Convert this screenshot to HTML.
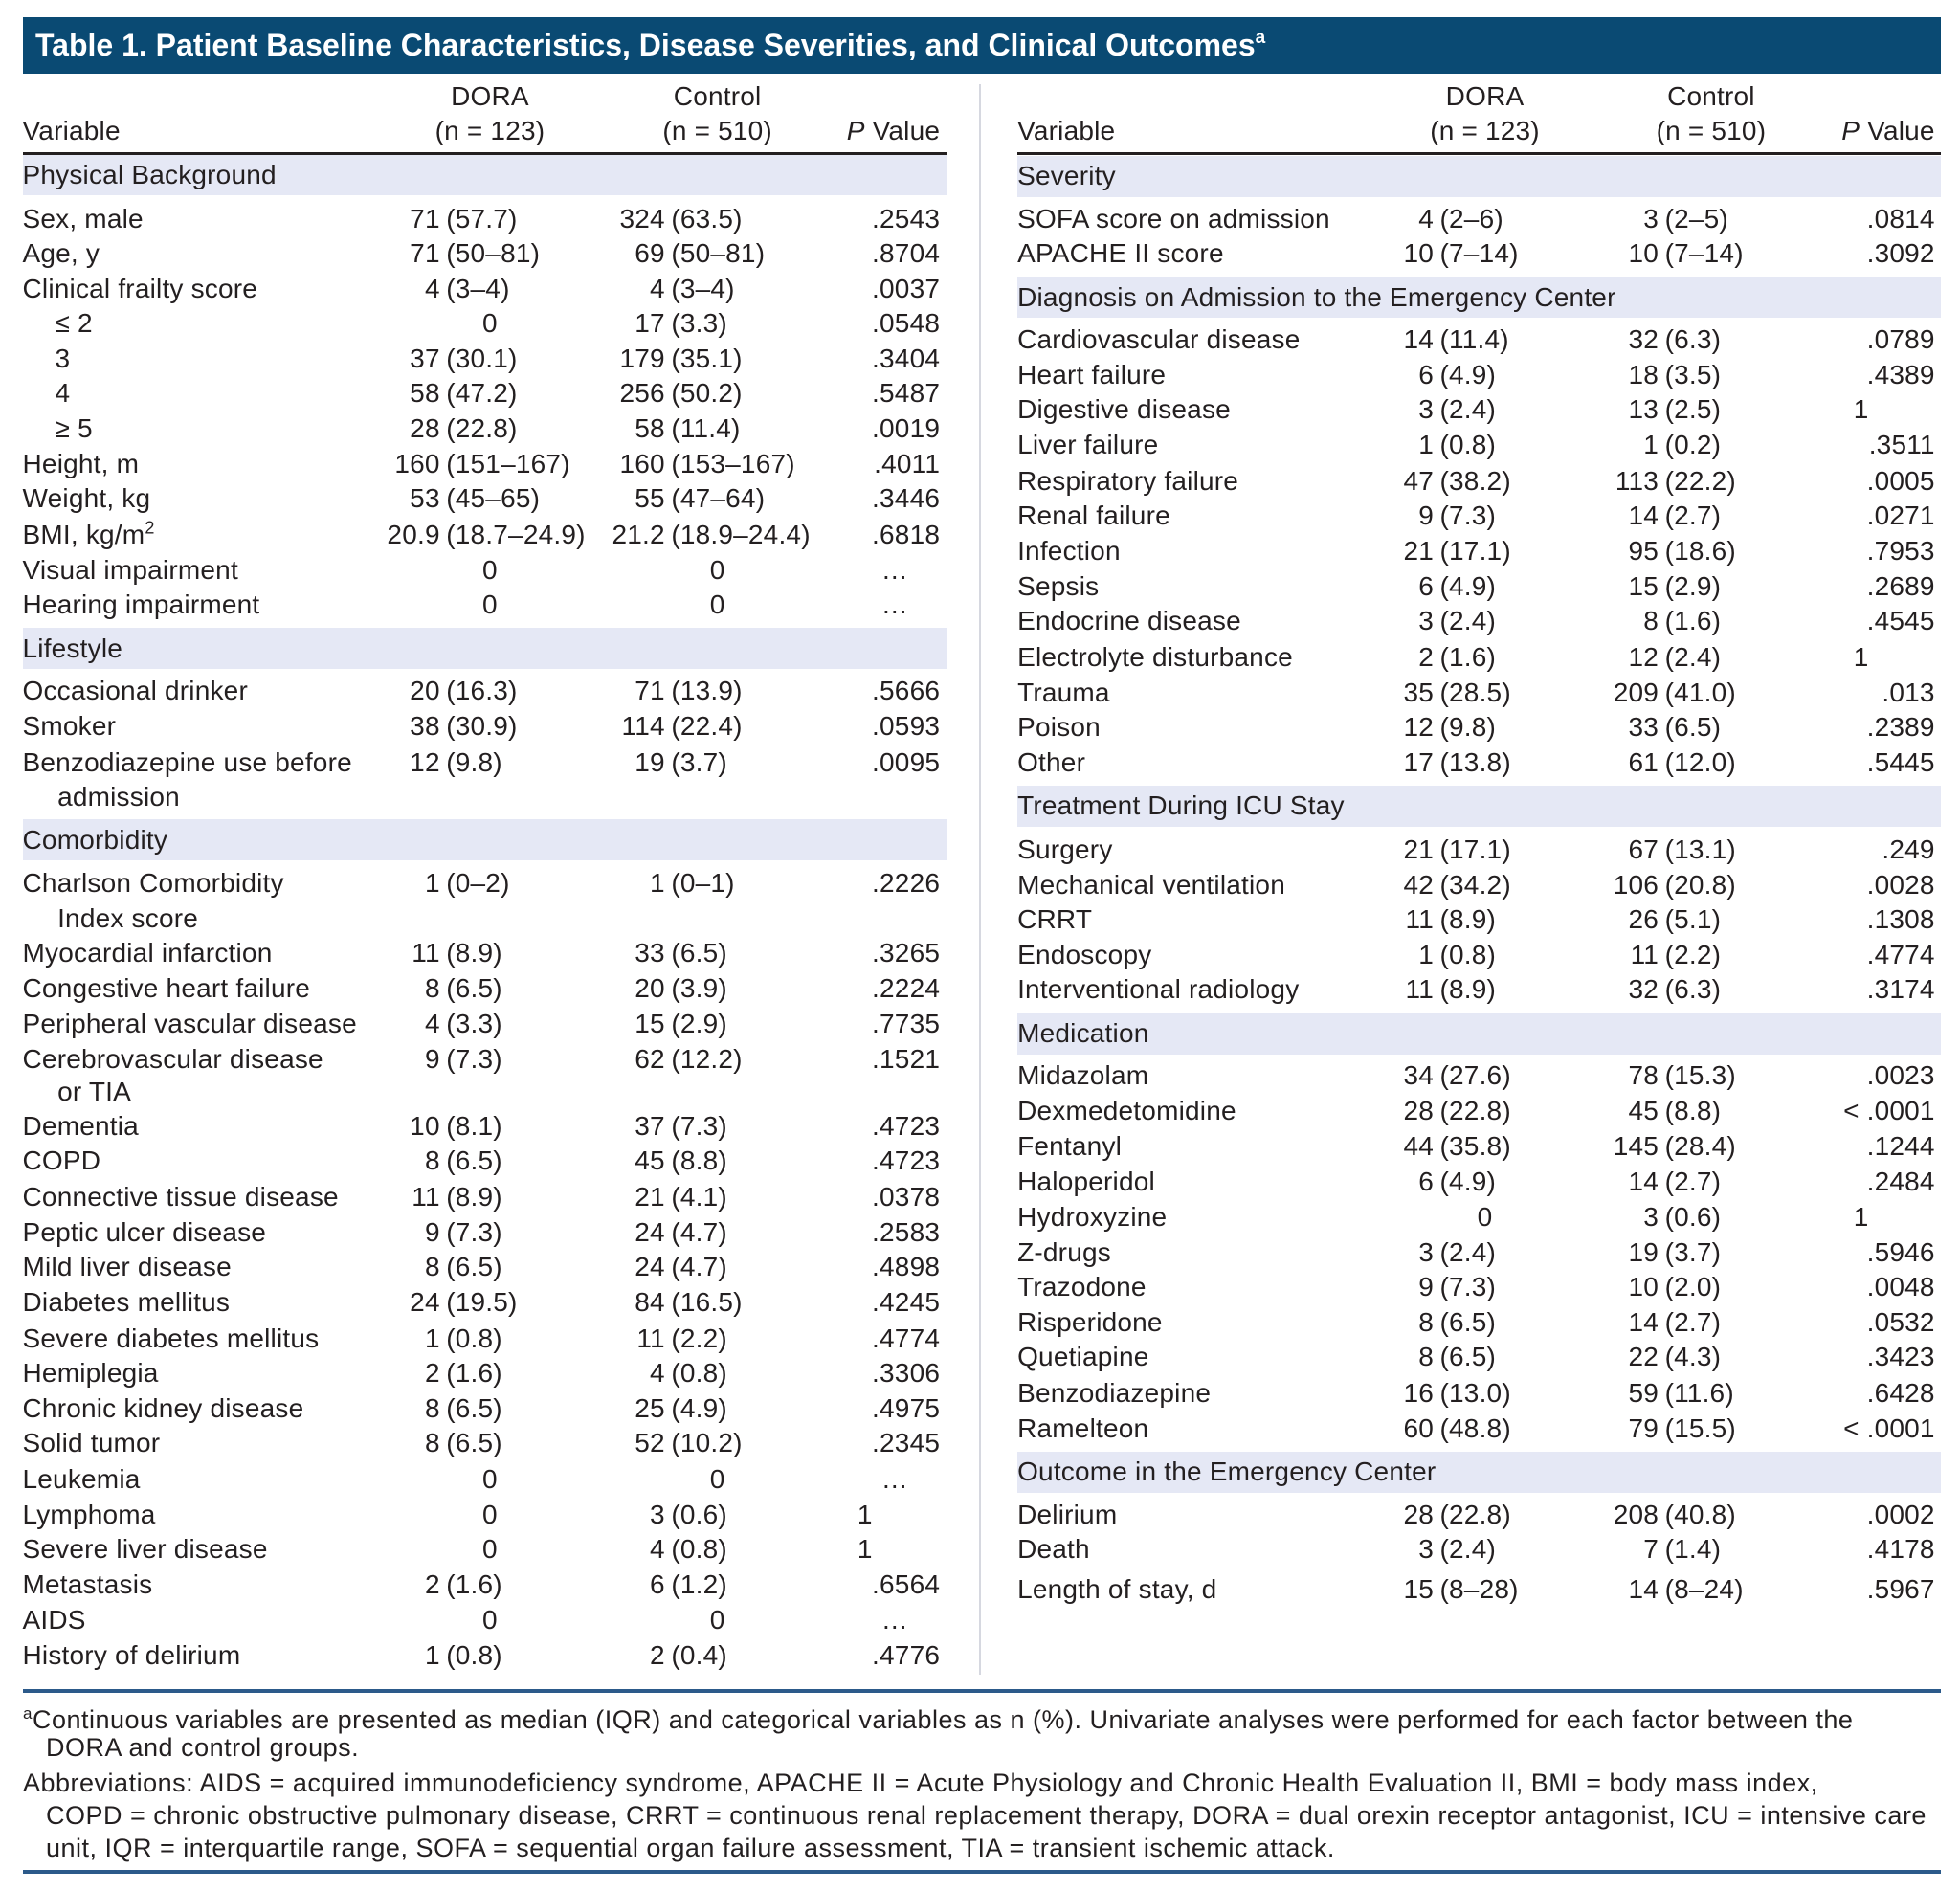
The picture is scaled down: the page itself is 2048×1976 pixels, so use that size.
<!DOCTYPE html>
<html><head><meta charset="utf-8">
<style>
html,body{margin:0;padding:0;background:#fff;}
#page{position:relative;width:2048px;height:1976px;overflow:hidden;background:#fff;font-family:"Liberation Sans Narrow","Liberation Sans",sans-serif;color:#231f20;}
.t{position:absolute;white-space:nowrap;font-size:28px;line-height:36px;height:36px;letter-spacing:0.2px;}
.band{position:absolute;background:#e5e8f5;}
.line{position:absolute;}
#title{position:absolute;left:24px;top:18px;width:2004px;height:59px;background:#0a4a73;color:#fff;font-weight:bold;font-size:32px;line-height:59px;letter-spacing:0px;box-sizing:border-box;padding-left:13px;white-space:nowrap;}
#title sup{font-size:19px;line-height:0;vertical-align:13px;}
.ft{position:absolute;white-space:nowrap;font-size:27px;line-height:34px;letter-spacing:0.5px;}
</style></head>
<body>
<div id="page">
<div id="title">Table 1. Patient Baseline Characteristics, Disease Severities, and Clinical Outcomes<sup>a</sup></div>
<div class="line" style="left:1023px;top:88px;width:2px;height:1662px;background:#d6d8e0;"></div>
<div class="line" style="left:24px;top:1765px;width:2004px;height:4px;background:#2c5a8a;"></div>
<div class="line" style="left:24px;top:1954px;width:2004px;height:4px;background:#2c5a8a;"></div>
<div class="ft" style="left:24px;top:1774px;"><sup style="font-size:17px">a</sup>Continuous variables are presented as median (IQR) and categorical variables as n (%). Univariate analyses were performed for each factor between the</div>
<div class="ft" style="left:48px;top:1809px;">DORA and control groups.</div>
<div class="ft" style="left:24px;top:1846px;">Abbreviations: AIDS = acquired immunodeficiency syndrome, APACHE II = Acute Physiology and Chronic Health Evaluation II, BMI = body mass index,</div>
<div class="ft" style="left:48px;top:1880px;">COPD = chronic obstructive pulmonary disease, CRRT = continuous renal replacement therapy, DORA = dual orexin receptor antagonist, ICU = intensive care</div>
<div class="ft" style="left:48px;top:1914px;">unit, IQR = interquartile range, SOFA = sequential organ failure assessment, TIA = transient ischemic attack.</div>
</div>
<script>
const S = 1.306;
const page = document.getElementById('page');
const leftRows = [
 ['s','Physical Background',140],
 ['r','Sex, male',175,'71 (57.7)','324 (63.5)','.2543'],
 ['r','Age, y',203,'71 (50–81)','69 (50–81)','.8704'],
 ['r','Clinical frailty score',231,'4 (3–4)','4 (3–4)','.0037'],
 ['i','≤ 2',259,'0','17 (3.3)','.0548'],
 ['i','3',287,'37 (30.1)','179 (35.1)','.3404'],
 ['i','4',315,'58 (47.2)','256 (50.2)','.5487'],
 ['i','≥ 5',343,'28 (22.8)','58 (11.4)','.0019'],
 ['r','Height, m',371,'160 (151–167)','160 (153–167)','.4011'],
 ['r','Weight, kg',399,'53 (45–65)','55 (47–64)','.3446'],
 ['r','BMI, kg/m²',428,'20.9 (18.7–24.9)','21.2 (18.9–24.4)','.6818'],
 ['r','Visual impairment',456,'0','0','…'],
 ['r','Hearing impairment',484,'0','0','…'],
 ['s','Lifestyle',519],
 ['r','Occasional drinker',553,'20 (16.3)','71 (13.9)','.5666'],
 ['r','Smoker',581,'38 (30.9)','114 (22.4)','.0593'],
 ['r','Benzodiazepine use before',610,'12 (9.8)','19 (3.7)','.0095'],
 ['c','admission',638],
 ['s','Comorbidity',672],
 ['r','Charlson Comorbidity',707,'1 (0–2)','1 (0–1)','.2226'],
 ['c','Index score',735],
 ['r','Myocardial infarction',763,'11 (8.9)','33 (6.5)','.3265'],
 ['r','Congestive heart failure',791,'8 (6.5)','20 (3.9)','.2224'],
 ['r','Peripheral vascular disease',819,'4 (3.3)','15 (2.9)','.7735'],
 ['r','Cerebrovascular disease',848,'9 (7.3)','62 (12.2)','.1521'],
 ['c','or TIA',874],
 ['r','Dementia',901,'10 (8.1)','37 (7.3)','.4723'],
 ['r','COPD',929,'8 (6.5)','45 (8.8)','.4723'],
 ['r','Connective tissue disease',958,'11 (8.9)','21 (4.1)','.0378'],
 ['r','Peptic ulcer disease',986,'9 (7.3)','24 (4.7)','.2583'],
 ['r','Mild liver disease',1014,'8 (6.5)','24 (4.7)','.4898'],
 ['r','Diabetes mellitus',1042,'24 (19.5)','84 (16.5)','.4245'],
 ['r','Severe diabetes mellitus',1071,'1 (0.8)','11 (2.2)','.4774'],
 ['r','Hemiplegia',1099,'2 (1.6)','4 (0.8)','.3306'],
 ['r','Chronic kidney disease',1127,'8 (6.5)','25 (4.9)','.4975'],
 ['r','Solid tumor',1155,'8 (6.5)','52 (10.2)','.2345'],
 ['r','Leukemia',1184,'0','0','…'],
 ['r','Lymphoma',1212,'0','3 (0.6)','1'],
 ['r','Severe liver disease',1240,'0','4 (0.8)','1'],
 ['r','Metastasis',1268,'2 (1.6)','6 (1.2)','.6564'],
 ['r','AIDS',1296,'0','0','…'],
 ['r','History of delirium',1325,'1 (0.8)','2 (0.4)','.4776']
];
const rightRows = [
 ['s','Severity',141],
 ['r','SOFA score on admission',175,'4 (2–6)','3 (2–5)','.0814'],
 ['r','APACHE II score',203,'10 (7–14)','10 (7–14)','.3092'],
 ['s','Diagnosis on Admission to the Emergency Center',238],
 ['r','Cardiovascular disease',272,'14 (11.4)','32 (6.3)','.0789'],
 ['r','Heart failure',300,'6 (4.9)','18 (3.5)','.4389'],
 ['r','Digestive disease',328,'3 (2.4)','13 (2.5)','1'],
 ['r','Liver failure',356,'1 (0.8)','1 (0.2)','.3511'],
 ['r','Respiratory failure',385,'47 (38.2)','113 (22.2)','.0005'],
 ['r','Renal failure',413,'9 (7.3)','14 (2.7)','.0271'],
 ['r','Infection',441,'21 (17.1)','95 (18.6)','.7953'],
 ['r','Sepsis',469,'6 (4.9)','15 (2.9)','.2689'],
 ['r','Endocrine disease',497,'3 (2.4)','8 (1.6)','.4545'],
 ['r','Electrolyte disturbance',526,'2 (1.6)','12 (2.4)','1'],
 ['r','Trauma',554,'35 (28.5)','209 (41.0)','.013'],
 ['r','Poison',582,'12 (9.8)','33 (6.5)','.2389'],
 ['r','Other',610,'17 (13.8)','61 (12.0)','.5445'],
 ['s','Treatment During ICU Stay',645],
 ['r','Surgery',680,'21 (17.1)','67 (13.1)','.249'],
 ['r','Mechanical ventilation',708,'42 (34.2)','106 (20.8)','.0028'],
 ['r','CRRT',736,'11 (8.9)','26 (5.1)','.1308'],
 ['r','Endoscopy',764,'1 (0.8)','11 (2.2)','.4774'],
 ['r','Interventional radiology',792,'11 (8.9)','32 (6.3)','.3174'],
 ['s','Medication',827],
 ['r','Midazolam',861,'34 (27.6)','78 (15.3)','.0023'],
 ['r','Dexmedetomidine',889,'28 (22.8)','45 (8.8)','< .0001'],
 ['r','Fentanyl',917,'44 (35.8)','145 (28.4)','.1244'],
 ['r','Haloperidol',946,'6 (4.9)','14 (2.7)','.2484'],
 ['r','Hydroxyzine',974,'0','3 (0.6)','1'],
 ['r','Z-drugs',1002,'3 (2.4)','19 (3.7)','.5946'],
 ['r','Trazodone',1030,'9 (7.3)','10 (2.0)','.0048'],
 ['r','Risperidone',1058,'8 (6.5)','14 (2.7)','.0532'],
 ['r','Quetiapine',1086,'8 (6.5)','22 (4.3)','.3423'],
 ['r','Benzodiazepine',1115,'16 (13.0)','59 (11.6)','.6428'],
 ['r','Ramelteon',1143,'60 (48.8)','79 (15.5)','< .0001'],
 ['s','Outcome in the Emergency Center',1178],
 ['r','Delirium',1212,'28 (22.8)','208 (40.8)','.0002'],
 ['r','Death',1240,'3 (2.4)','7 (1.4)','.4178'],
 ['r','Length of stay, d',1272,'15 (8–28)','14 (8–24)','.5967']
];
const leftCols = {x0:18,x1:757,dNum:352,dZero:392,cNum:532,cZero:574,pR:752,pOne:686,pDots:705};
const rightCols = {x0:814,x1:1553,dNum:1147,dZero:1188,cNum:1327,cZero:1369,pR:1548,pOne:1483,pDots:1501};

function txt(str, x, y, align, name){
  const d = document.createElement('div');
  d.className = 't';
  
  
  d.textContent = str;
  d.style.top = (y*S - 18) + 'px';
  if(align === 'right'){ d.style.right = (2048 - x*S) + 'px'; }
  else if(align === 'center'){ d.style.left = (x*S) + 'px'; d.style.transform = 'translateX(-50%)'; }
  else { d.style.left = (x*S) + 'px'; }
  page.appendChild(d);
  return d;
}
function valueCell(v, numX, zeroX, y, name){
  if(v === '0'){ txt(v, zeroX, y, 'center', name); return; }
  const i = v.indexOf(' ');
  txt(v.slice(0,i), numX, y, 'right', name + '-n');
  txt(v.slice(i+1), numX + 5, y, 'left', name + '-pct');
}
function panel(rows, c, side){
  txt('DORA', c.dZero, 77, 'center', side + '-header-dora');
  txt('(n = 123)', c.dZero, 105, 'center', side + '-header-dora-n');
  txt('Control', c.cZero, 77, 'center', side + '-header-control');
  txt('(n = 510)', c.cZero, 105, 'center', side + '-header-control-n');
  txt('Variable', c.x0, 105, 'left', side + '-header-variable');
  const pv = txt('', c.pR, 105, 'right', side + '-header-pvalue');
  pv.innerHTML = '<i>P</i> Value';
  const rule = document.createElement('div');
  rule.className = 'line';
  
  
  rule.style.cssText = 'left:'+(c.x0*S)+'px;top:'+(122*S)+'px;width:'+((c.x1-c.x0)*S)+'px;height:3px;background:#231f20;';
  page.appendChild(rule);
  rows.forEach(function(r){
    const type = r[0], label = r[1], y = r[2];
    const slug = label.toLowerCase().replace(/[^a-z0-9]+/g,'-').replace(/^-|-$/g,'') || 'row';
    if(type === 's'){
      const b = document.createElement('div');
      b.className = 'band';
      
      
      b.style.cssText = 'left:'+(c.x0*S)+'px;top:'+((y-16.5)*S)+'px;width:'+((c.x1-c.x0)*S)+'px;height:'+(33*S)+'px;';
      page.insertBefore(b, page.firstChild.nextSibling);
      txt(label, c.x0, y, 'left', side + '-section-label-' + slug);
      return;
    }
    if(type === 'c'){ txt(label, c.x0 + 28, y, 'left', side + '-label-cont-' + slug); return; }
    const lab = txt(label, c.x0 + (type === 'i' ? 26 : 0), y, 'left', side + '-label-' + slug);
    if(label === 'BMI, kg/m²'){ lab.innerHTML = 'BMI, kg/m<sup style="font-size:18px;line-height:0">2</sup>'; }
    valueCell(r[3], c.dNum, c.dZero, y, side + '-dora-' + slug);
    valueCell(r[4], c.cNum, c.cZero, y, side + '-control-' + slug);
    const p = r[5];
    if(p === '1') txt(p, c.pOne, y, 'left', side + '-p-' + slug);
    else if(p === '…') txt(p, c.pDots, y, 'left', side + '-p-' + slug);
    else txt(p, c.pR, y, 'right', side + '-p-' + slug);
  });
}
panel(leftRows, leftCols, 'left');
panel(rightRows, rightCols, 'right');
</script>
</body></html>
